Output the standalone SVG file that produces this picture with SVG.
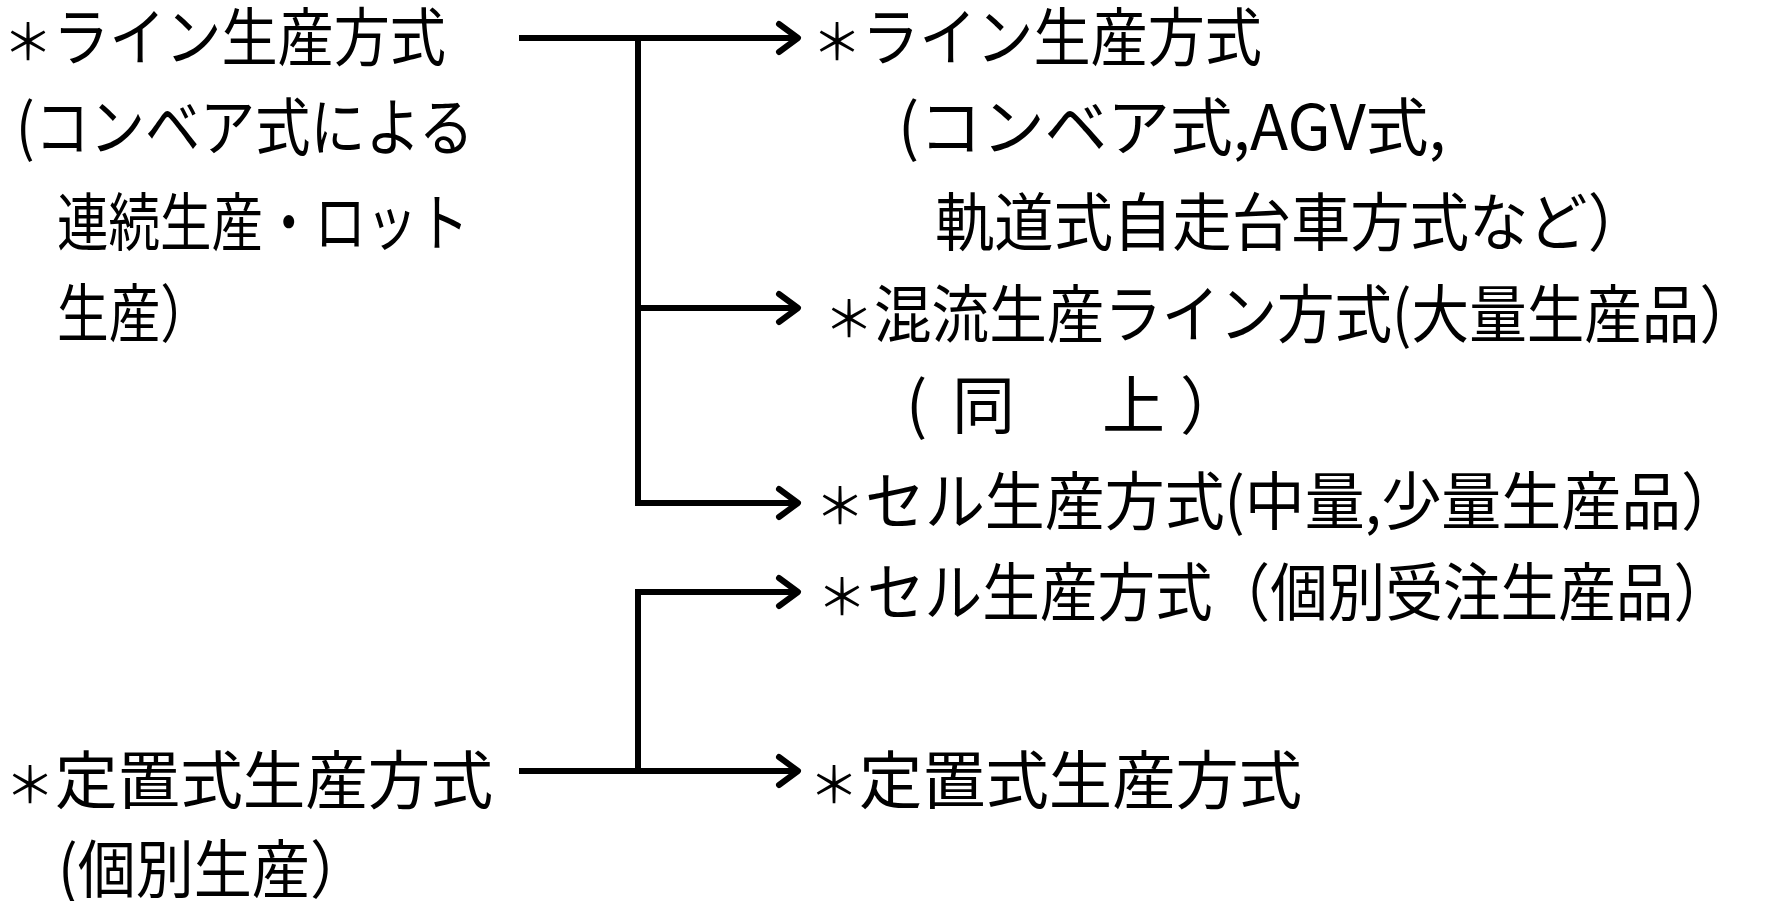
<svg xmlns="http://www.w3.org/2000/svg" width="1787" height="901" viewBox="0 0 1787 901">
<style>
text{font-family:"Noto Sans CJK JP","Noto Sans CJK SC",sans-serif;font-size:63px;fill:#000}
.s{font-size:50px}
.c{fill:none;stroke:#000;stroke-width:6;stroke-linejoin:miter}
</style>
<defs>
<marker id="ah" markerUnits="userSpaceOnUse" markerWidth="36" markerHeight="42" viewBox="-30 -21 36 42" refX="0" refY="0" orient="auto">
<path d="M-19,-14 L0,0 L-19,14" fill="none" stroke="#000" stroke-width="6" stroke-linecap="round" stroke-linejoin="round"/>
</marker>
</defs>
<rect width="1787" height="901" fill="#fff"/>
<g id="connectors">
<path class="c" d="M519,38 H798" marker-end="url(#ah)"/>
<path class="c" d="M638,38 V503 H798" marker-end="url(#ah)"/>
<path class="c" d="M638,308 H798" marker-end="url(#ah)"/>
<path class="c" d="M519,771 H798" marker-end="url(#ah)"/>
<path class="c" d="M638,771 V592 H798" marker-end="url(#ah)"/>
</g>
<g id="src-line">
<text y="60"><tspan class="s" x="3">＊</tspan><tspan x="53" textLength="393" lengthAdjust="spacingAndGlyphs">ライン生産方式</tspan></text>
<text x="16" y="150" textLength="458" lengthAdjust="spacingAndGlyphs">(コンベア式による</text>
<text x="57" y="245" textLength="412" lengthAdjust="spacingAndGlyphs">連続生産・ロット</text>
<text x="57" y="336" textLength="155" lengthAdjust="spacingAndGlyphs">生産）</text>
</g>
<g id="src-fixed">
<text y="803"><tspan class="s" x="5">＊</tspan><tspan x="55" textLength="438" lengthAdjust="spacingAndGlyphs">定置式生産方式</tspan></text>
<text x="58" y="892" textLength="310" lengthAdjust="spacingAndGlyphs">(個別生産）</text>
</g>
<g id="dst-line">
<text y="60"><tspan class="s" x="812">＊</tspan><tspan x="862" textLength="400" lengthAdjust="spacingAndGlyphs">ライン生産方式</tspan></text>
<text x="898" y="150" textLength="548" lengthAdjust="spacingAndGlyphs">(コンベア式,AGV式,</text>
<text x="935" y="245" textLength="712" lengthAdjust="spacingAndGlyphs">軌道式自走台車方式など）</text>
</g>
<g id="dst-mixed">
<text y="337"><tspan class="s" x="824">＊</tspan><tspan x="874" textLength="883" lengthAdjust="spacingAndGlyphs">混流生産ライン方式(大量生産品）</tspan></text>
<text y="428"><tspan x="906">(</tspan><tspan x="952">同</tspan><tspan x="1102">上</tspan><tspan x="1180">）</tspan></text>
</g>
<g id="dst-cell">
<text y="524"><tspan class="s" x="815">＊</tspan><tspan x="865" textLength="876" lengthAdjust="spacingAndGlyphs">セル生産方式(中量,少量生産品）</tspan></text>
</g>
<g id="dst-cell-order">
<text y="615"><tspan class="s" x="817">＊</tspan><tspan x="867" textLength="864" lengthAdjust="spacingAndGlyphs">セル生産方式（個別受注生産品）</tspan></text>
</g>
<g id="dst-fixed">
<text y="803"><tspan class="s" x="809">＊</tspan><tspan x="859" textLength="443" lengthAdjust="spacingAndGlyphs">定置式生産方式</tspan></text>
</g>
</svg>
